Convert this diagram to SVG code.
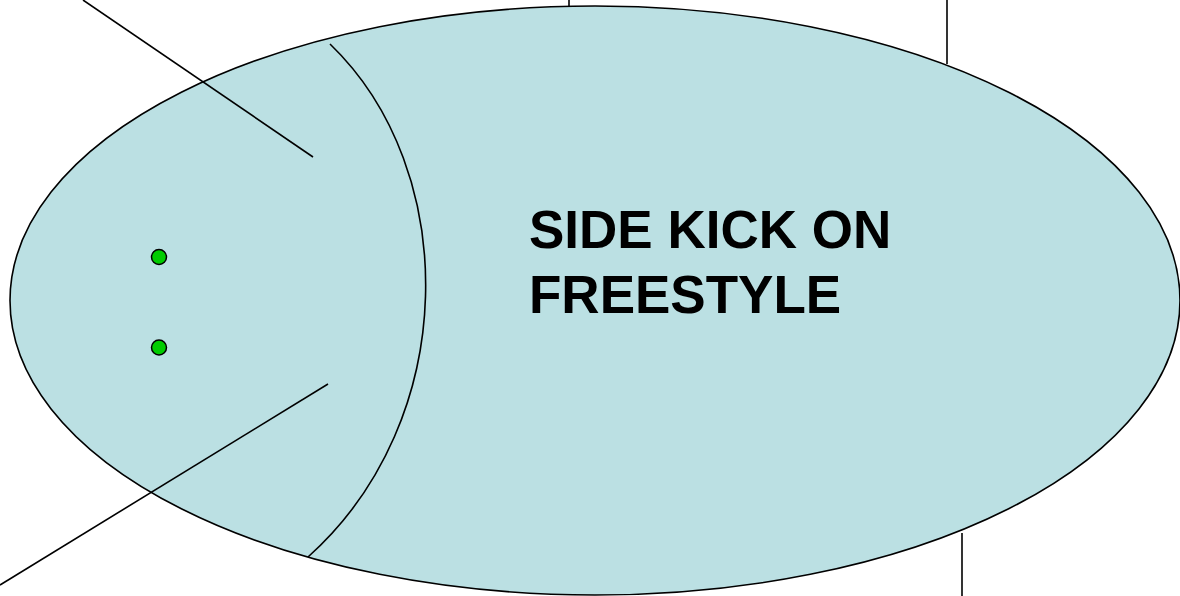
<svg xmlns="http://www.w3.org/2000/svg" width="1180" height="596" viewBox="0 0 1180 596">
  <style>
    .ln { stroke: #000; stroke-width: 1.6; fill: none; }
    .dot { fill: #00CC00; stroke: #000; stroke-width: 1.5; }
    .title { font-family: "Liberation Sans", Arial, sans-serif; font-weight: bold; font-size: 53px; fill: #000; }
  </style>
  <rect width="1180" height="596" fill="#ffffff"/>
  <g id="body">
    <ellipse cx="595" cy="300.5" rx="585" ry="294.5" fill="#BBE0E3" stroke="#000" stroke-width="1.6"/>
  </g>
  <g id="connectors">
    <line class="ln" x1="569" y1="0" x2="569" y2="6"/>
    <line class="ln" x1="947" y1="0" x2="947" y2="64"/>
    <line class="ln" x1="962" y1="533" x2="962" y2="596"/>
    <line class="ln" x1="83" y1="0" x2="313" y2="157"/>
    <line class="ln" x1="0" y1="585" x2="328" y2="384"/>
    <path class="ln" d="M330,44 C461,170 461,420 308,557"/>
  </g>
  <g id="dot1"><circle class="dot" cx="159" cy="257" r="7.5"/></g>
  <g id="dot2"><circle class="dot" cx="159" cy="347.5" r="7.5"/></g>
  <g id="label">
    <text class="title" x="529" y="248">SIDE KICK ON</text>
    <text class="title" x="529" y="313">FREESTYLE</text>
  </g>
</svg>
